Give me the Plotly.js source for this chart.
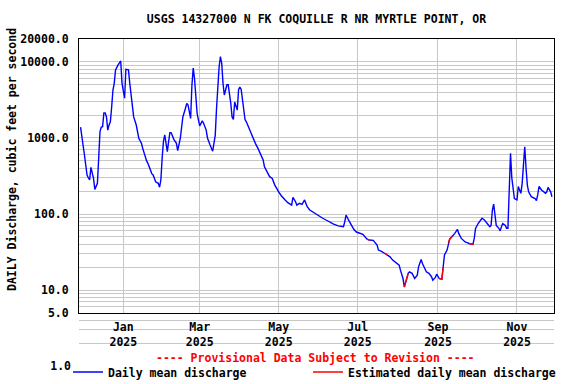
<!DOCTYPE html>
<html>
<head>
<meta charset="utf-8">
<script src="https://cdn.plot.ly/plotly-3.0.1.min.js"></script>
<style>html,body{margin:0;padding:0;background:#fff;}#chart{width:576px;height:384px;}</style>
</head>
<body>
<div id="chart"></div>
<script>
// Days since 2025-01-01 and daily mean discharge (cfs)
const dayOffset = [-33,-32,-31,-30,-29,-28,-27,-26,-25,-24,-23,-22,-21,-20,-19,-18,-17,-16,-15,-14,-13,-12,-11,-10,-9,-8,-7,-6,-4,-3,-2,-1,
  0,1,2,3,4,5,6,7,8,10,11,12,13,14,15,16,17,18,19,20,21,22,23,24,25,26,27,28,29,30,31,32,33,34,35,36,37,38,39,41,42,44,45,46,48,49,50,51,52,53,54,55,56,57,58,59,61,62,64,65,67,68,69,70,
  71,72,73,74,75,76,77,78,79,80,81,82,83,84,85,86,87,88,89,90,91,92,93,94,95,96,97,99,100,102,104,106,108,109,111,113,115,117,120,122,125,127,130,131,133,134,136,138,140,142,144,147,151,154,158,162,166,170,171,172,174,176,178,180,183,185,
  188,190,193,196,197,199,202,204,206,208,211,213,214,216,217,218,220,221,223,225,227,228,230,231,233,234,236,238,239,241,242,244,246,247,248,250,251,252,254,256,258,259,261,264,266,267,270,271,272,274,277,279,281,283,284,285,286,287,288,290,291,292,293,295,296,297,298,299,300,301,302,304,305,306,307,308,309,310,311,312,313,315,318,319,320,321,323,324,326,327,328,330,331];
const discharge = [1390,985,767,597,441,326,300,280,411,340,294,211,240,253,540,1210,1390,1410,2140,2140,1890,1270,1480,1630,2530,4270,5220,7850,9120,9560,10300,5220,
  4070,3330,7990,8000,7850,5220,3850,2850,1890,1480,1210,985,920,850,730,630,540,500,464,411,360,340,326,294,266,258,253,225,280,540,900,1100,767,660,900,1180,1170,1020,960,850,680,985,1270,1890,2460,2850,2700,2110,1810,5000,8270,6000,3000,2110,1725,1440,1680,1560,1270,1000,808,730,670,850,
  1090,2460,5000,8700,11750,9560,5220,3670,4270,5000,5000,3850,2850,1890,1750,2970,2560,2320,4300,4660,4370,3160,2200,1750,1630,1480,1410,1170,1050,850,730,610,512,418,360,310,294,240,196,174,153,141,131,166,145,131,138,134,153,125,113,104,94,88,81,74,70,68,79,97,83,72,63,58,55,54,
  47,45.5,45,39,33.6,32.6,30.3,29,27.4,24.8,22.4,21.3,18.3,14.2,11.0,12.9,16.6,17.4,16.6,14.2,15.7,20.2,25.2,22.4,18.7,17.4,16.6,15,13.5,14.7,16.2,14.2,13.9,20,29,33.6,41.8,46.4,51,55.7,63,55.7,47.8,43,41.8,41,40,47.8,64.6,75,88,83,75,68,71,113,135,102,71,65,60,68,75,71,65,65,250,630,300,218,160,153,230,207,187,253,464,767,400,240,196,169,160,150,178,230,207,200,187,196,224,196,169];
// Estimated-value periods (days since 2025-01-01)
const estStartDay = [188, 202, 217, 244, 251, 267];
const estEndDay   = [190, 204, 220, 247, 254, 270];

const monthTicks  = ['2025-01-01','2025-03-01','2025-05-01','2025-07-01','2025-09-01','2025-11-01'];
const monthLabels = ['Jan<br>2025','Mar<br>2025','May<br>2025','Jul<br>2025','Sep<br>2025','Nov<br>2025'];
const yTickVals = [5, 10, 100, 1000, 10000, 20000];
const yTickText = ['5.0','10.0','100.0','1000.0','10000.0','20000.0'];
const yMinorVals = [6,7,8,9,20,30,40,50,60,70,80,90,200,300,400,500,600,700,800,900,2000,3000,4000,5000,6000,7000,8000,9000];
const lowTickVals = [1, 2, 3, 4];
const lowTickText = ['1.0', '', '', ''];

function toDate(d){ return new Date(Date.UTC(2025,0,1+d)).toISOString().slice(0,10); }
const dates = dayOffset.map(toDate);
const estY = discharge.map((v,i)=>{
  const d = dayOffset[i];
  for (let k=0;k<estStartDay.length;k++){ if (d>=estStartDay[k] && d<=estEndDay[k]) return v; }
  return null;
});

const F = {family:'DejaVu Sans Mono', size:11.5, color:'#000', weight:'bold'};
const GRID = '#c8c8c8';
const split = 53/327;
const xRange = ['2024-11-27 19:00','2025-11-29 14:00'];

const traces = [
  {x:dates, y:discharge, xaxis:'x2', yaxis:'y2', type:'scatter', mode:'lines', name:'Daily mean discharge',
   line:{color:'#0000ff', width:1.4}, legend:'legend'},
  {x:dates, y:estY, xaxis:'x2', yaxis:'y2', type:'scatter', mode:'lines', name:'Estimated daily mean discharge',
   line:{color:'#ff0000', width:1.4}, connectgaps:false, legend:'legend2'},
  {x:[], y:[], xaxis:'x', yaxis:'y', type:'scatter', mode:'lines', showlegend:false, hoverinfo:'skip'}
];

const legBase = {orientation:'h', xref:'container', xanchor:'left', yref:'container', y:1-372/384, yanchor:'middle',
                 font:F, bgcolor:'rgba(0,0,0,0)', borderwidth:0, itemclick:false, itemdoubleclick:false};

const layout = {
  width:576, height:384,
  margin:{l:79, r:22, t:39, b:18, autoexpand:false},
  paper_bgcolor:'#fff', plot_bgcolor:'#fff',
  font:F,
  title:{text:'USGS 14327000 N FK COQUILLE R NR MYRTLE POINT, OR', font:F, x:0.5, xref:'paper', xanchor:'center', y:1-19/384, yref:'container', yanchor:'middle'},
  xaxis:{anchor:'y', domain:[0,1], type:'date', matches:'x2', range:xRange, showgrid:false, showline:false, zeroline:false, showticklabels:false, ticks:''},
  yaxis:{anchor:'x', domain:[0,split], type:'log', range:[0, Math.log10(5)], tickmode:'array', tickvals:lowTickVals, ticktext:lowTickText,
         showgrid:true, gridcolor:GRID, gridwidth:1, showline:false, zeroline:false, ticks:'', tickfont:F, ticklabelstandoff:7},
  xaxis2:{anchor:'y2', domain:[0,1], type:'date', range:xRange, tickmode:'array', tickvals:monthTicks, ticktext:monthLabels,
          showgrid:true, gridcolor:GRID, gridwidth:1, showline:true, mirror:true, linecolor:'#000', linewidth:1, zeroline:false, ticks:'', tickfont:F, ticklabelstandoff:3},
  yaxis2:{anchor:'x2', domain:[split,1], type:'log', range:[Math.log10(5), Math.log10(20000)], tickmode:'array', tickvals:yTickVals, ticktext:yTickText,
          showgrid:true, gridcolor:GRID, gridwidth:1, showline:true, mirror:true, linecolor:'#000', linewidth:1, zeroline:false, ticks:'', tickfont:F, ticklabelstandoff:7,
          minor:{tickmode:'array', tickvals:yMinorVals, showgrid:true, gridcolor:GRID, gridwidth:1, ticks:''}},
  showlegend:true,
  legend:Object.assign({}, legBase, {x:68/576}),
  legend2:Object.assign({}, legBase, {x:308/576}),
  annotations:[
    {text:'DAILY Discharge, cubic feet per second', xref:'paper', yref:'paper', x:(12-79)/475, y:(366-160)/327, textangle:-90,
     showarrow:false, font:F, xanchor:'center', yanchor:'middle'},
    {text:'---- Provisional Data Subject to Revision ----', xref:'paper', yref:'paper', x:(315-79)/475, y:(366-358)/327,
     showarrow:false, font:Object.assign({}, F, {color:'#ff0000'}), xanchor:'center', yanchor:'middle'}
  ]
};

Plotly.newPlot('chart', traces, layout, {displayModeBar:false, staticPlot:true});
</script>
</body>
</html>
